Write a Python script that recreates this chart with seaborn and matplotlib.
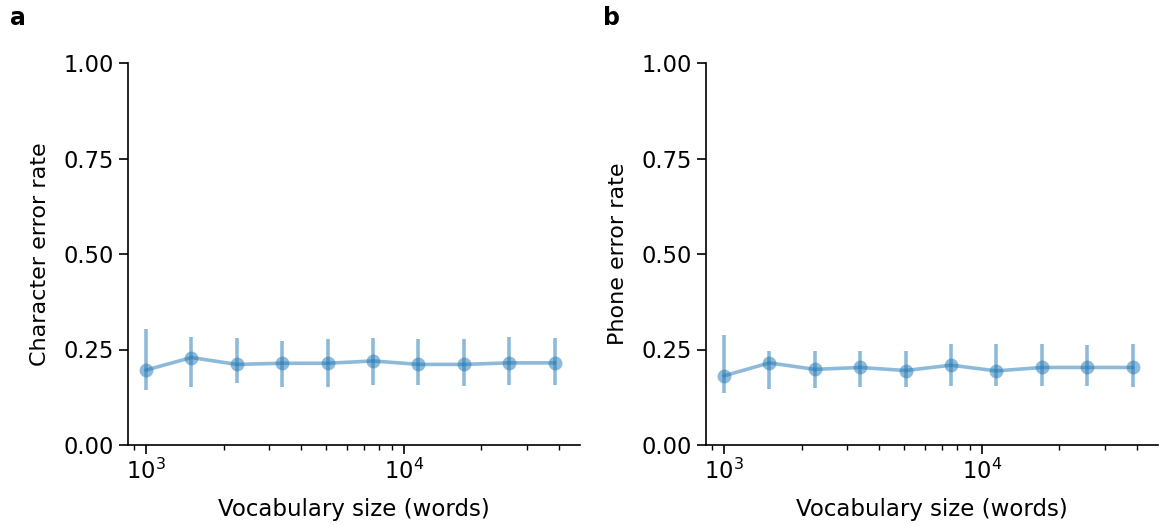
import matplotlib
matplotlib.use("Agg")
import matplotlib.pyplot as plt
import seaborn as sns
import numpy as np
import pandas as pd

sns.set_style("ticks")
plt.rcParams['font.family'] = ['DejaVu Sans']
plt.rcParams['text.color'] = 'black'
plt.rcParams['axes.labelcolor'] = 'black'
plt.rcParams['xtick.color'] = 'black'
plt.rcParams['ytick.color'] = 'black'
plt.rcParams['axes.edgecolor'] = 'black'

vocab_sizes = [1000, 1500, 2250, 3375, 5063, 7594, 11391, 17086, 25629, 38443]

cer_mean = [0.196, 0.229, 0.211, 0.214, 0.214, 0.220, 0.211, 0.211, 0.215, 0.215]
cer_low = [0.144, 0.153, 0.162, 0.153, 0.153, 0.157, 0.157, 0.155, 0.157, 0.157]
cer_high = [0.303, 0.284, 0.279, 0.273, 0.277, 0.279, 0.277, 0.277, 0.282, 0.279]

per_mean = [0.181, 0.215, 0.198, 0.203, 0.195, 0.209, 0.194, 0.203, 0.203, 0.203]
per_low = [0.135, 0.146, 0.150, 0.153, 0.153, 0.154, 0.154, 0.154, 0.154, 0.153]
per_high = [0.288, 0.247, 0.247, 0.247, 0.247, 0.264, 0.264, 0.264, 0.262, 0.264]

y_ticks = [0.00, 0.25, 0.50, 0.75, 1.00]
panels = [
    ("a", "Character error rate", cer_mean, cer_low, cer_high),
    ("b", "Phone error rate", per_mean, per_low, per_high),
]

W, H = 1162, 525
fig = plt.figure(figsize=(W / 100, H / 100), dpi=100)
lefts = [128, 706]
letter_x = [10, 603]
color = "#1f77b4"

for (letter, ylabel, mean, low, high), lx, tx in zip(panels, lefts, letter_x):
    ax = fig.add_axes([lx / W, (H - 445) / H, 452 / W, 382 / H])
    df = pd.DataFrame({"vocab": vocab_sizes, "err": mean})
    ax.vlines(vocab_sizes, low, high, color=color, alpha=0.5, linewidth=2.6, zorder=2)
    sns.lineplot(data=df, x="vocab", y="err", ax=ax, color=color, alpha=0.5,
                 linewidth=2.6, marker="o", markersize=10, markeredgewidth=0, zorder=3)
    ax.set_xscale("log")
    ax.set_xlim(852, 48200)
    ax.set_ylim(0, 1)
    ax.set_yticks(y_ticks)
    ax.set_yticklabels([f"{v:.2f}" for v in y_ticks])
    ax.set_xlabel("Vocabulary size (words)", fontsize=16.5, labelpad=10)
    ax.set_ylabel(ylabel, fontsize=16, labelpad=10)
    ax.tick_params(axis="both", which="major", labelsize=16.3, length=6.5, width=1.2)
    ax.tick_params(axis="x", which="minor", length=3.5, width=1.0)
    for s in ["left", "bottom"]:
        ax.spines[s].set_linewidth(1.2)
    sns.despine(ax=ax)
    fig.text(tx / W, 1 - 18 / H, letter, fontsize=17, fontweight="bold",
             va="center", ha="left")

fig.savefig("out.png", dpi=100)
